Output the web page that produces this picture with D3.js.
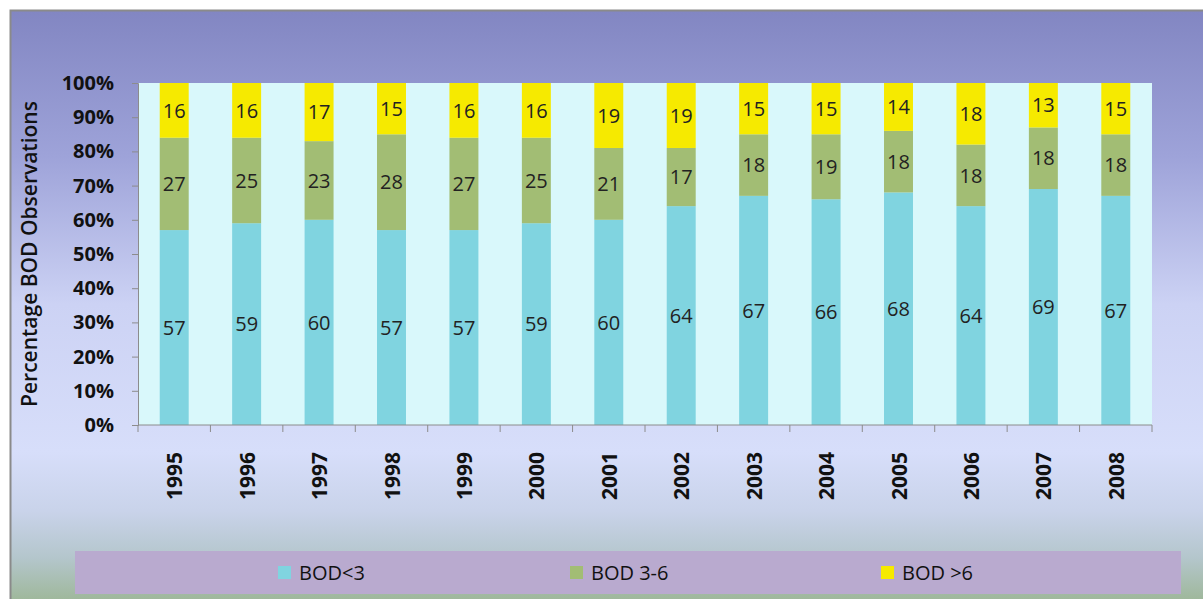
<!DOCTYPE html>
<html lang="en">
  <head>
    <meta charset="UTF-8" />
    <title>BOD Observations 1995-2008</title>
    <script src="https://d3js.org/d3.v7.min.js"></script>
    <style>
      body { margin: 0; background: #fff; }
      text { font-family: "Open Sans", "Noto Sans", sans-serif; }
    </style>
  </head>
  <body>
    <div id="chart"></div>
    <script>
      // data
      const years = ["1995","1996","1997","1998","1999","2000","2001","2002","2003","2004","2005","2006","2007","2008"];
      const bodLow = [57, 59, 60, 57, 57, 59, 60, 64, 67, 66, 68, 64, 69, 67];
      const bodMid = [27, 25, 23, 28, 27, 25, 21, 17, 18, 19, 18, 18, 18, 18];
      const bodHigh = [16, 16, 17, 15, 16, 16, 19, 19, 15, 15, 14, 18, 13, 15];
      const seriesNames = ["BOD<3", "BOD 3-6", "BOD >6"];
      const seriesColors = ["#80d4e0", "#a2bd74", "#f6ea00"];
      const yTicks = [0, 10, 20, 30, 40, 50, 60, 70, 80, 90, 100];

      const W = 1203, H = 599;
      const plot = { left: 138, right: 1152, top: 83, bottom: 425 };

      const svg = d3.select("#chart").append("svg")
        .attr("width", W).attr("height", H);

      // background gradient
      const defs = svg.append("defs");
      const grad = defs.append("linearGradient").attr("id", "bg")
        .attr("x1", 0).attr("y1", 0).attr("x2", 0).attr("y2", 1);
      [[0, "#8286c2"], [0.25, "#9ea3d9"], [0.5, "#ccd2f4"], [0.75, "#d7defa"],
       [0.85, "#c9d3ea"], [0.93, "#b4c6cc"], [1, "#9fb89c"]]
        .forEach(([o, c]) => grad.append("stop").attr("offset", o).attr("stop-color", c));

      svg.append("rect").attr("x", 10).attr("y", 10)
        .attr("width", W - 10).attr("height", H - 10)
        .attr("fill", "url(#bg)");
      svg.append("path").attr("d", `M10.5,${H} V10.5 H${W}`)
        .attr("fill", "none").attr("stroke", "#8a8a8a").attr("stroke-width", 2);

      const x = d3.scaleBand().domain(years)
        .range([plot.left, plot.right]).paddingInner(0.6).paddingOuter(0.3);
      const y = d3.scaleLinear().domain([0, 100]).range([plot.bottom, plot.top]);

      svg.append("rect")
        .attr("x", plot.left).attr("y", plot.top)
        .attr("width", plot.right - plot.left).attr("height", plot.bottom - plot.top)
        .attr("fill", "#d9f8fb");

      // stack series
      const rows = years.map((yr, i) => ({ year: yr, s0: bodLow[i], s1: bodMid[i], s2: bodHigh[i] }));
      const stack = d3.stack().keys(["s0", "s1", "s2"])(rows);

      stack.forEach((layer, k) => {
        const g = svg.append("g");
        g.selectAll("rect").data(layer).join("rect")
          .attr("x", d => x(d.data.year))
          .attr("y", d => y(d[1]))
          .attr("width", x.bandwidth())
          .attr("height", d => y(d[0]) - y(d[1]))
          .attr("fill", seriesColors[k]);
        g.selectAll("text").data(layer).join("text")
          .attr("x", d => x(d.data.year) + x.bandwidth() / 2)
          .attr("y", d => y((d[0] + d[1]) / 2))
          .attr("dy", "0.36em")
          .attr("text-anchor", "middle")
          .attr("font-size", 20)
          .attr("fill", "#222")
          .text(d => d[1] - d[0]);
      });

      // y axis
      const yAxis = svg.append("g")
        .attr("transform", `translate(${plot.left},0)`)
        .call(d3.axisLeft(y).tickValues(yTicks).tickFormat(d => d + "%").tickSize(6).tickPadding(18));
      yAxis.select(".domain").attr("stroke", "#8c8c8c");
      yAxis.selectAll(".tick line").attr("stroke", "#8c8c8c");
      yAxis.selectAll("text").attr("font-size", 20).attr("font-weight", "bold").attr("fill", "#111");

      // x axis, ticks at band edges
      const xAxis = svg.append("g")
        .attr("transform", `translate(0,${plot.bottom})`);
      xAxis.append("line").attr("x1", plot.left).attr("x2", plot.right)
        .attr("stroke", "#8c8c8c");
      const edges = years.map(yr => x(yr) - x.step() * x.paddingInner() / 2)
        .concat([plot.right]);
      xAxis.selectAll(".edge").data(edges).join("line")
        .attr("x1", d => d).attr("x2", d => d)
        .attr("y1", 0).attr("y2", 7).attr("stroke", "#8c8c8c");
      xAxis.selectAll(".yr").data(years).join("text")
        .attr("transform", d => `translate(${x(d) + x.bandwidth() / 2 + 8},75) rotate(-90)`)
        .attr("text-anchor", "start")
        .attr("font-size", 21).attr("font-weight", "bold").attr("fill", "#111")
        .text(d => d);

      // y title
      svg.append("text")
        .attr("transform", `translate(37,${(plot.top + plot.bottom) / 2}) rotate(-90)`)
        .attr("text-anchor", "middle")
        .attr("font-size", 21).attr("font-weight", 600).attr("fill", "#111")
        .text("Percentage BOD Observations");

      // legend
      svg.append("rect").attr("x", 75).attr("y", 551)
        .attr("width", 1106).attr("height", 43).attr("fill", "#b9aacf");
      const legX = [285, 577, 888];
      const leg = svg.append("g").selectAll("g").data(seriesNames).join("g")
        .attr("transform", (d, i) => `translate(${legX[i]},573)`);
      leg.append("rect").attr("x", -7).attr("y", -7).attr("width", 13).attr("height", 13)
        .attr("fill", (d, i) => seriesColors[i]);
      leg.append("text").attr("x", 14).attr("dy", "0.36em")
        .attr("font-size", 20).attr("fill", "#111")
        .text(d => d);
    </script>
  </body>
</html>
